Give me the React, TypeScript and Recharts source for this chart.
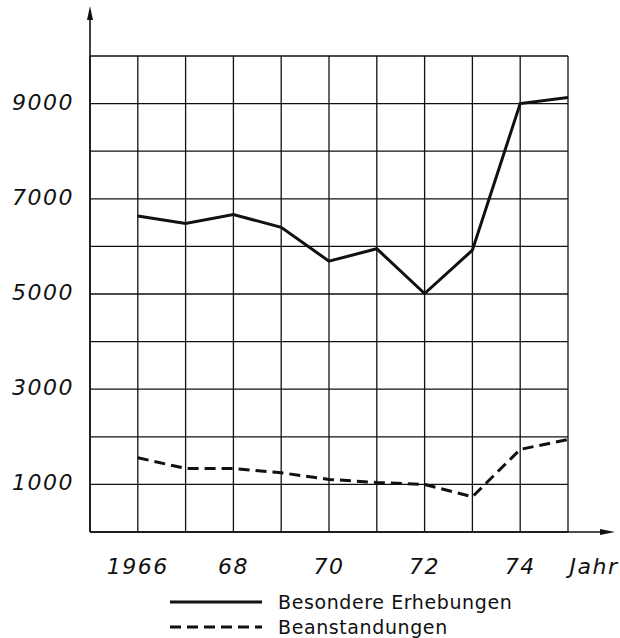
import { CartesianGrid, Line, LineChart, XAxis, YAxis } from 'recharts';

const years = [1966, 1967, 1968, 1969, 1970, 1971, 1972, 1973, 1974, 1975];
const erhebungen = [6640, 6480, 6670, 6400, 5690, 5950, 5010, 5920, 9000, 9130];
const beanstandungen = [1560, 1335, 1335, 1245, 1105, 1040, 1000, 740, 1735, 1945];

const xTicks = [1965, 1966, 1967, 1968, 1969, 1970, 1971, 1972, 1973, 1974, 1975];
const xTickLabels: Record<number, string> = {
  1966: '1966',
  1968: '68',
  1970: '70',
  1972: '72',
  1974: '74',
  1975: 'Jahr',
};
const yTicks = [0, 1000, 2000, 3000, 4000, 5000, 6000, 7000, 8000, 9000, 10000];
const yTickLabels = [1000, 3000, 5000, 7000, 9000];

const seriesNames = ['Besondere Erhebungen', 'Beanstandungen'];

const chartData = years.map((year, i) => ({
  year,
  erhebungen: erhebungen[i],
  beanstandungen: beanstandungen[i],
}));

const W = 620;
const H = 638;
const margin = { top: 56, right: 52, bottom: 66, left: 10 };
const Y_AXIS_W = 80;
const X_AXIS_H = 40;
const plotLeft = margin.left + Y_AXIS_W;
const plotBottom = H - margin.bottom - X_AXIS_H;

const labelFont = {
  fontFamily: '"DejaVu Sans", sans-serif',
  fontStyle: 'italic' as const,
  fontSize: 22,
  letterSpacing: 1.5,
  fill: '#111',
};

function XTick({ x, payload }: any) {
  const label = xTickLabels[payload.value];
  if (!label) return null;
  const shift = label === 'Jahr' ? 26 : 0;
  return (
    <text x={x + shift} y={plotBottom + 36} textAnchor="middle" dominantBaseline="middle" {...labelFont}>
      {label}
    </text>
  );
}

function YTick({ y, payload }: any) {
  if (!yTickLabels.includes(payload.value)) return null;
  return (
    <text x={12} y={y} textAnchor="start" dominantBaseline="middle" {...labelFont}>
      {payload.value}
    </text>
  );
}

function LegendBox() {
  const row = (dash: string | undefined, name: string, key: number) => (
    <div key={key} style={{ display: 'flex', alignItems: 'center', height: 25 }}>
      <svg width={96} height={10} style={{ marginRight: 14 }}>
        <line x1={2} y1={5} x2={94} y2={5} stroke="#111" strokeWidth={3} strokeDasharray={dash} />
      </svg>
      <span
        style={{
          fontFamily: '"DejaVu Sans", sans-serif',
          fontSize: 19,
          letterSpacing: 0.6,
          lineHeight: '22px',
          color: '#111',
        }}
      >
        {name}
      </span>
    </div>
  );
  return (
    <div style={{ position: 'absolute', left: 168, top: 589 }}>
      {row(undefined, seriesNames[0], 0)}
      {row('11 6', seriesNames[1], 1)}
    </div>
  );
}

export default function App() {
  return (
    <div style={{ position: 'absolute', left: 0, top: 0, width: W, height: H, background: '#fff' }}>
      <LineChart width={W} height={H} data={chartData} margin={margin}>
        <CartesianGrid stroke="#111" strokeWidth={1.3} />
        <XAxis
          dataKey="year"
          type="number"
          domain={[1965, 1975]}
          ticks={xTicks}
          interval={0}
          tick={<XTick />}
          tickLine={false}
          axisLine={false}
          height={X_AXIS_H}
        />
        <YAxis
          type="number"
          domain={[0, 10000]}
          ticks={yTicks}
          interval={0}
          tick={<YTick />}
          tickLine={false}
          axisLine={false}
          width={Y_AXIS_W}
        />
        <Line
          type="linear"
          dataKey="erhebungen"
          name={seriesNames[0]}
          stroke="#111"
          strokeWidth={3}
          dot={false}
          isAnimationActive={false}
        />
        <Line
          type="linear"
          dataKey="beanstandungen"
          name={seriesNames[1]}
          stroke="#111"
          strokeWidth={3}
          strokeDasharray="11 6"
          dot={false}
          isAnimationActive={false}
        />
      </LineChart>
      <LegendBox />
      <svg
        width={W}
        height={H}
        style={{ position: 'absolute', left: 0, top: 0, pointerEvents: 'none' }}
      >
        <line x1={plotLeft} y1={plotBottom} x2={plotLeft} y2={14} stroke="#111" strokeWidth={1.6} />
        <polygon points={`${plotLeft - 3},${20} ${plotLeft + 3},${20} ${plotLeft},${6}`} fill="#111" />
        <line x1={plotLeft} y1={plotBottom} x2={606} y2={plotBottom} stroke="#111" strokeWidth={1.6} />
        <polygon
          points={`${600},${plotBottom - 3} ${600},${plotBottom + 3} ${615},${plotBottom}`}
          fill="#111"
        />
      </svg>
    </div>
  );
}
